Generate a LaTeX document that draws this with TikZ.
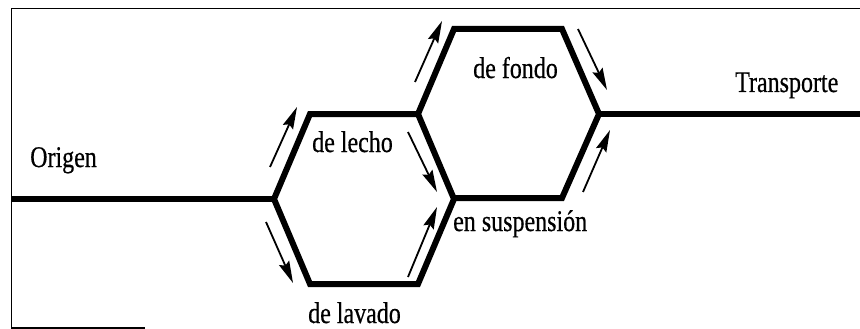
\documentclass[tikz,border=0pt]{standalone}
\usepackage{fontspec}
\setmainfont{Liberation Serif}
\newfontfamily\lblfont{Liberation Serif}[FakeBold=0.6]
\usetikzlibrary{arrows.meta}
\tikzset{
  hexline/.style={line width=6pt, line join=miter, line cap=butt},
  frameline/.style={line width=1.4pt},
  flow/.style={line width=1.8pt, -{Stealth[length=22pt,width=11pt,inset=3pt]}},
  lbl/.style={inner sep=0pt, anchor=base west, font=\lblfont\fontsize{30}{30}\selectfont}
}
\newcommand{\narrowtxt}[1]{\scalebox{0.8}[1]{#1}}
\begin{document}
\begin{tikzpicture}[x=1pt,y=-1pt]
\useasboundingbox (0,0) rectangle (860,329);
% frame
\coordinate (fA) at (860,8.5);
\coordinate (fB) at (11.5,8.5);
\coordinate (fC) at (11.5,328);
\coordinate (fD) at (145,328);
\draw[frameline] (fA) -- (fB) -- (fC) -- (fD);
% hexagon 1
\coordinate (h1L) at (274,199);
\coordinate (h1TL) at (310,114);
\coordinate (h1TR) at (418,114);
\coordinate (h1R) at (454,199);
\coordinate (h1BR) at (418,284);
\coordinate (h1BL) at (310,284);
% hexagon 2
\coordinate (h2L) at (418,114);
\coordinate (h2TL) at (454,29);
\coordinate (h2TR) at (562,29);
\coordinate (h2R) at (599,114);
\coordinate (h2BR) at (562,198);
\coordinate (h2BL) at (454,198);
% ends
\coordinate (orig) at (11,199);
\coordinate (trans) at (860,114);
\draw[hexline] (h1L) -- (h1TL) -- (h1TR) -- (h1R) -- (h1BR) -- (h1BL) -- cycle;
\draw[hexline] (h2L) -- (h2TL) -- (h2TR) -- (h2R) -- (h2BR) -- (h2BL) -- (h1R);
\draw[hexline] (orig) -- (h1L);
\draw[hexline] (h2R) -- (trans);
% arrows
\coordinate (a1s) at (270,167); \coordinate (a1e) at (297,107);
\coordinate (a2s) at (266,222); \coordinate (a2e) at (293,283);
\coordinate (a3s) at (408,132); \coordinate (a3e) at (437,192);
\coordinate (a4s) at (408,277); \coordinate (a4e) at (437,207);
\coordinate (a5s) at (415,82);  \coordinate (a5e) at (442,21);
\coordinate (a6s) at (578,29);  \coordinate (a6e) at (607,90);
\coordinate (a7s) at (583,192); \coordinate (a7e) at (610,130);
\foreach \i in {1,...,7} \draw[flow] (a\i s) -- (a\i e);
% labels
\node[lbl] (origen) at (30,167) {\narrowtxt{Origen}};
\node[lbl] (lecho) at (312,152) {\narrowtxt{de lecho}};
\node[lbl] (lavado) at (308,323) {\narrowtxt{de lavado}};
\node[lbl] (fondo) at (473,78) {\narrowtxt{de fondo}};
\node[lbl] (transporte) at (735,92) {\narrowtxt{Transporte}};
\node[lbl] (susp) at (453,231) {\narrowtxt{en suspensión}};
\end{tikzpicture}
\end{document}
